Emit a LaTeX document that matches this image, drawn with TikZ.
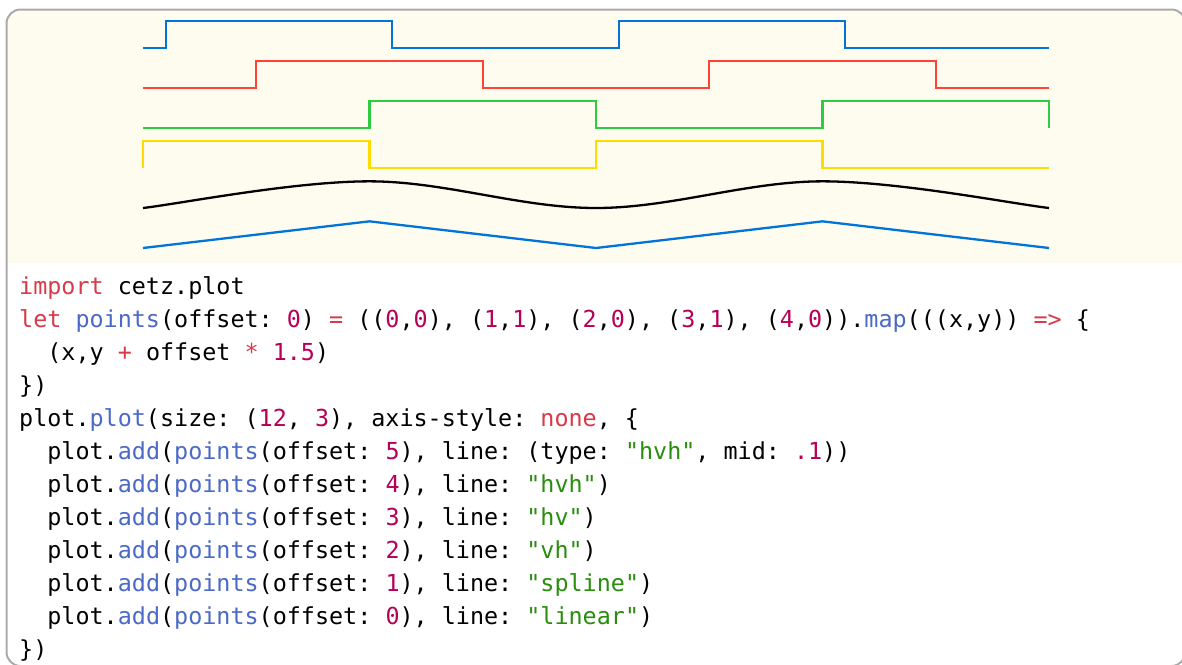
\documentclass[tikz,border=0pt]{standalone}
\usepackage{fontspec}
\setmonofont{DejaVu Sans Mono}
\definecolor{cream}{HTML}{FEFBEF}
\definecolor{framec}{HTML}{AAAAAA}
\definecolor{cblue}{HTML}{0074D9}
\definecolor{cred}{HTML}{FF4136}
\definecolor{cgreen}{HTML}{2ECC40}
\definecolor{cyellow}{HTML}{FFDC00}
\definecolor{kwc}{HTML}{D73A49}
\definecolor{fnc}{HTML}{4B69C6}
\definecolor{numc}{HTML}{B60157}
\definecolor{strc}{HTML}{298E0D}
\newcommand\codefont{\ttfamily\fontsize{23.4}{28}\selectfont}
\newcommand\tkw[1]{\textcolor{kwc}{#1}}
\newcommand\tfn[1]{\textcolor{fnc}{#1}}
\newcommand\tnum[1]{\textcolor{numc}{#1}}
\newcommand\tstr[1]{\textcolor{strc}{#1}}
\tikzset{
  plotline/.style={line width=2.3pt},
  codeline/.style={anchor=base west, inner sep=0pt, font=\codefont},
}
\begin{document}
\begin{tikzpicture}[x=1pt,y=-1pt]
\useasboundingbox (0,0) rectangle (1182,664);
\begin{scope}
  \clip[rounded corners=14pt] (6.5,9.5) rectangle (1185.5,666);
  \fill[cream] (0,0) rectangle (1190,262.5);
  \fill[white] (0,262.5) rectangle (1190,670);
\end{scope}
\draw[framec, line width=2pt, rounded corners=14pt] (6.5,9.5) rectangle (1185.5,666);

\begin{scope}[shift={(143,248)}, x=226.5pt, y=26.667pt]
  % hvh, mid .1
  \draw[plotline, cblue] (0,7.5) -- (0.1,7.5) -- (0.1,8.5) -- (1.1,8.5) -- (1.1,7.5) -- (2.1,7.5) -- (2.1,8.5) -- (3.1,8.5) -- (3.1,7.5) -- (4,7.5);
  % hvh
  \draw[plotline, cred] (0,6) -- (0.5,6) -- (0.5,7) -- (1.5,7) -- (1.5,6) -- (2.5,6) -- (2.5,7) -- (3.5,7) -- (3.5,6) -- (4,6);
  % hv
  \draw[plotline, cgreen] (0,4.5) -- (1,4.5) -- (1,5.5) -- (2,5.5) -- (2,4.5) -- (3,4.5) -- (3,5.5) -- (4,5.5) -- (4,4.5);
  % vh
  \draw[plotline, cyellow] (0,3) -- (0,4) -- (1,4) -- (1,3) -- (2,3) -- (2,4) -- (3,4) -- (3,3) -- (4,3);
  % spline
  \draw[plotline, black] (0,1.5) .. controls (0.1667,1.6667) and (0.6667,2.5) .. (1,2.5)
    .. controls (1.3333,2.5) and (1.6667,1.5) .. (2,1.5)
    .. controls (2.3333,1.5) and (2.6667,2.5) .. (3,2.5)
    .. controls (3.3333,2.5) and (3.8333,1.6667) .. (4,1.5);
  % linear
  \draw[plotline, cblue] (0,0) -- (1,1) -- (2,0) -- (3,1) -- (4,0);
\end{scope}

\node[codeline] (l1) at (19,294) {\tkw{import} cetz.plot};
\node[codeline] (l2) at (19,327) {\tkw{let} \tfn{points}(offset: \tnum{0}) \tkw{=} ((\tnum{0},\tnum{0}), (\tnum{1},\tnum{1}), (\tnum{2},\tnum{0}), (\tnum{3},\tnum{1}), (\tnum{4},\tnum{0})).\tfn{map}(((x,y)) \tkw{=>} \{};
\node[codeline] (l3) at (47.2,360) {(x,y \tkw{+} offset \tkw{*} \tnum{1.5})};
\node[codeline] (l4) at (19,393) {\})};
\node[codeline] (l5) at (19,426) {plot.\tfn{plot}(size: (\tnum{12}, \tnum{3}), axis-style: \tkw{none}, \{};
\node[codeline] (l6) at (47.2,459) {plot.\tfn{add}(\tfn{points}(offset: \tnum{5}), line: (type: \tstr{"hvh"}, mid: \tnum{.1}))};
\node[codeline] (l7) at (47.2,492) {plot.\tfn{add}(\tfn{points}(offset: \tnum{4}), line: \tstr{"hvh"})};
\node[codeline] (l8) at (47.2,525) {plot.\tfn{add}(\tfn{points}(offset: \tnum{3}), line: \tstr{"hv"})};
\node[codeline] (l9) at (47.2,558) {plot.\tfn{add}(\tfn{points}(offset: \tnum{2}), line: \tstr{"vh"})};
\node[codeline] (l10) at (47.2,591) {plot.\tfn{add}(\tfn{points}(offset: \tnum{1}), line: \tstr{"spline"})};
\node[codeline] (l11) at (47.2,624) {plot.\tfn{add}(\tfn{points}(offset: \tnum{0}), line: \tstr{"linear"})};
\node[codeline] (l12) at (19,657) {\})};
\end{tikzpicture}
\end{document}
